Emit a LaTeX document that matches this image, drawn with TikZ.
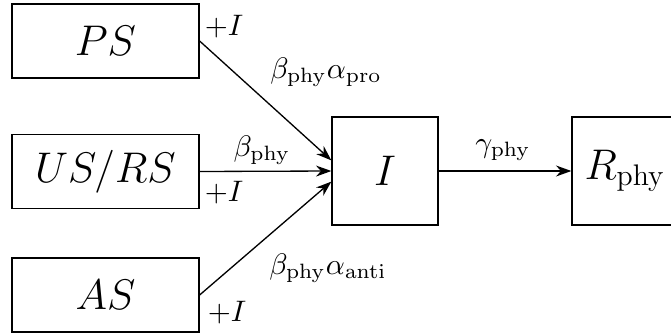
\documentclass[tikz,border=0pt]{standalone}
\usepackage{graphicx}
\usetikzlibrary{arrows.meta}
\newcommand{\boxtext}[1]{\scalebox{1.13}{#1}}
\begin{document}
\begin{tikzpicture}[x=0.016cm,y=-0.016cm,
  compbox/.style={draw,line width=0.6pt,inner sep=0pt,font=\LARGE},
  srcbox/.style={compbox,minimum width=2.992cm,minimum height=1.184cm},
  sqbox/.style={compbox,minimum width=1.696cm,minimum height=1.728cm},
  flow/.style={-{Stealth[length=7pt,width=5pt]},line width=0.6pt},
  rate/.style={inner sep=1pt,scale=1.35}]
\useasboundingbox (0,0) rectangle (671,334);
% compartments
\node[srcbox] (PS) at (105.5,41) {\boxtext{$PS$}};
\node[srcbox] (US) at (105.5,171.5) {\boxtext{$US/RS$}};
\node[srcbox] (AS) at (105.5,295) {\boxtext{$AS$}};
\node[sqbox] (I) at (385,171) {\boxtext{$I$}};
\node[sqbox] (R) at (625,171) {\boxtext{$R_{\mathrm{phy}}$}};
% flows
\draw[flow] (PS.east) -- ([yshift=0.17cm]I.west);
\draw[flow] (US.east) -- (I.west);
\draw[flow] (AS.east) -- ([yshift=-0.17cm]I.west);
\draw[flow] (I.east) -- (R.west);
% rates
\node[rate] (l1) at (224,27) {$+I$};
\node[rate] (l2) at (326,72) {$\beta_{\mathrm{phy}}\alpha_{\mathrm{pro}}$};
\node[rate] (l3) at (262,150) {$\beta_{\mathrm{phy}}$};
\node[rate] (l4) at (224,193) {$+I$};
\node[rate] (l5) at (328,268) {$\beta_{\mathrm{phy}}\alpha_{\mathrm{anti}}$};
\node[rate] (l6) at (227,313) {$+I$};
\node[rate] (l7) at (503,150) {$\gamma_{\mathrm{phy}}$};
\end{tikzpicture}
\end{document}
